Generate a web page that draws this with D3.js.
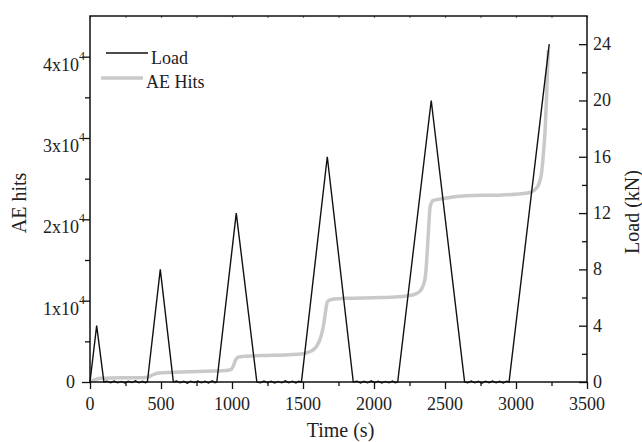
<!DOCTYPE html>
<html>
<head>
<meta charset="utf-8">
<script src="https://cdn.jsdelivr.net/npm/d3@7/dist/d3.min.js"></script>
<style>
  html, body { margin: 0; padding: 0; background: #fff; }
  svg { display: block; }
  text { font-family: "Liberation Serif", "Times New Roman", serif; fill: #222; }
</style>
</head>
<body>
<div id="chart"></div>
<script>
// ---- Data ----
const xTicks = [0, 500, 1000, 1500, 2000, 2500, 3000, 3500];
const leftTicks = [0, 10000, 20000, 30000, 40000];
const leftTickMantissa = ["0", "1x10", "2x10", "3x10", "4x10"];
const leftTickExponent = ["", "4", "4", "4", "4"];
const rightTicks = [0, 4, 8, 12, 16, 20, 24];

// Load (kN) vs time (s)
const loadTime = [0, 47, 98, 120, 145, 170, 195, 220, 245, 270, 295, 320, 345, 370, 390, 404,
  495, 587, 610, 635, 660, 685, 710, 735, 760, 785, 810, 835, 860, 880, 893,
  1030, 1175, 1200, 1225, 1250, 1275, 1300, 1325, 1350, 1375, 1400, 1425, 1450, 1470, 1489,
  1671, 1854, 1880, 1905, 1930, 1955, 1980, 2005, 2030, 2055, 2080, 2105, 2130, 2150, 2167,
  2403, 2638, 2660, 2685, 2710, 2735, 2760, 2785, 2810, 2835, 2860, 2885, 2910, 2935, 2951,
  3234];
const loadValue = [0, 4, 0, 0.06, -0.05, 0.07, -0.06, 0.04, -0.07, 0.05, -0.04, 0.08, -0.06, 0.05, -0.05, 0,
  8, 0, 0.07, -0.06, 0.05, -0.08, 0.06, -0.04, 0.07, -0.06, 0.05, -0.07, 0.08, -0.05, 0,
  12, 0, -0.06, 0.07, -0.05, 0.06, -0.07, 0.04, -0.06, 0.08, -0.05, 0.06, -0.07, 0.05, 0,
  16, 0, 0.06, -0.07, 0.05, -0.06, 0.08, -0.05, 0.06, -0.07, 0.04, -0.06, 0.07, -0.05, 0,
  20, 0, -0.05, 0.07, -0.06, 0.05, -0.08, 0.06, -0.05, 0.07, -0.06, 0.05, -0.07, 0.06, 0,
  24];

// AE hits (cumulative) vs time (s)
const aeTime = [0, 30, 70, 150, 300, 395, 420, 450, 480, 520, 700, 870, 960, 995, 1010, 1025, 1045,
  1080, 1200, 1400, 1490, 1560, 1600, 1625, 1645, 1660, 1672, 1700, 1800, 2050, 2150, 2270, 2320,
  2345, 2362, 2375, 2385, 2395, 2415, 2500, 2650, 2900, 3080, 3130, 3160, 3180, 3195, 3205, 3215,
  3222, 3228];
const aeHits = [0, 250, 450, 500, 520, 560, 700, 950, 1100, 1150, 1250, 1350, 1420, 1550, 2000, 2700, 3050,
  3150, 3250, 3350, 3450, 3800, 4500, 5500, 7000, 8800, 9900, 10150, 10300, 10380, 10450, 10700, 11100,
  11800, 13000, 16000, 19000, 21500, 22300, 22600, 22900, 23000, 23250, 23600, 24300, 25700, 28500, 31000, 35000,
  38500, 40800];

const seriesNames = ["Load", "AE Hits"];

// ---- Layout ----
const W = 642, H = 442;
const L = 90, R = 587, T = 16, B = 382;

const svg = d3.select("#chart").append("svg").attr("width", W).attr("height", H);

const x = d3.scaleLinear().domain([0, 3500]).range([L, R]);
const yL = d3.scaleLinear().domain([0, 45000]).range([B, T]);
const yR = d3.scaleLinear().domain([0, 26]).range([B, T]);

const fontTick = 18, fontTitle = 20;

// ---- Series ----
const aeData = aeTime.map((t, i) => [t, aeHits[i]]);
const loadData = loadTime.map((t, i) => [t, loadValue[i]]);

svg.append("path")
  .datum(aeData)
  .attr("fill", "none")
  .attr("stroke", "#c9c9c9")
  .attr("stroke-width", 3.5)
  .attr("stroke-linejoin", "round")
  .attr("d", d3.line().x(d => x(d[0])).y(d => yL(d[1])).curve(d3.curveMonotoneX));

svg.append("path")
  .datum(loadData)
  .attr("fill", "none")
  .attr("stroke", "#111")
  .attr("stroke-width", 1.4)
  .attr("stroke-linejoin", "miter")
  .attr("d", d3.line().x(d => x(d[0])).y(d => yR(d[1])));

// ---- Axes ----
function styleAxis(g) {
  g.select(".domain").remove();
  g.selectAll("line").attr("stroke", "#111").attr("stroke-width", 1.3);
}

// bottom major
svg.append("g").attr("transform", `translate(0,${B})`)
  .call(d3.axisBottom(x).tickValues(xTicks).tickSize(7).tickFormat(""))
  .call(styleAxis);
// bottom minor
svg.append("g").attr("transform", `translate(0,${B})`)
  .call(d3.axisBottom(x).tickValues(d3.range(250, 3500, 500)).tickSize(4).tickFormat(""))
  .call(styleAxis);
// bottom labels
svg.append("g").selectAll("text").data(xTicks).join("text")
  .attr("x", d => x(d)).attr("y", 410)
  .attr("text-anchor", "middle").attr("font-size", fontTick)
  .text(d => d);

// top ticks (tiny)
svg.append("g").attr("transform", `translate(0,${T})`)
  .call(d3.axisBottom(x).tickValues(d3.range(0, 3501, 250)).tickSize(2).tickFormat(""))
  .call(g => { g.select(".domain").remove(); g.selectAll("line").attr("stroke", "#777").attr("stroke-width", 1.2); });

// left major
svg.append("g").attr("transform", `translate(${L},0)`)
  .call(d3.axisLeft(yL).tickValues(leftTicks).tickSize(8).tickFormat(""))
  .call(styleAxis);
// left minor
svg.append("g").attr("transform", `translate(${L},0)`)
  .call(d3.axisLeft(yL).tickValues([5000, 15000, 25000, 35000]).tickSize(5).tickFormat(""))
  .call(styleAxis);
// left labels
const ll = svg.append("g").selectAll("text").data(leftTicks).join("text")
  .attr("x", 84)
  .attr("y", (d, i) => leftTickExponent[i] ? yL(d) + 14 : yL(d) + 6)
  .attr("text-anchor", "end").attr("font-size", fontTick);
ll.each(function(d, i) {
  const t = d3.select(this);
  if (leftTickExponent[i]) {
    t.attr("x", 85);
    t.append("tspan").text(leftTickMantissa[i]);
    t.append("tspan").attr("dy", -11).attr("font-size", 12).text(leftTickExponent[i]);
  } else {
    t.attr("x", 75);
    t.text(leftTickMantissa[i]);
  }
});

// right major (inward)
svg.append("g").attr("transform", `translate(${R},0)`)
  .call(d3.axisLeft(yR).tickValues(rightTicks).tickSize(8).tickFormat(""))
  .call(styleAxis);
// right minor
svg.append("g").attr("transform", `translate(${R},0)`)
  .call(d3.axisLeft(yR).tickValues([2, 6, 10, 14, 18, 22]).tickSize(5).tickFormat(""))
  .call(styleAxis);
svg.append("g").selectAll("text").data(rightTicks).join("text")
  .attr("x", 593).attr("y", d => yR(d) + 6)
  .attr("text-anchor", "start").attr("font-size", fontTick)
  .text(d => d);

// frame
svg.append("rect").attr("x", L).attr("y", T).attr("width", R - L).attr("height", B - T)
  .attr("fill", "none").attr("stroke", "#111").attr("stroke-width", 1.5);

// titles
svg.append("text").attr("x", (L + R) / 2 + 2).attr("y", 437)
  .attr("text-anchor", "middle").attr("font-size", fontTitle).text("Time (s)");
svg.append("text").attr("transform", "translate(26,203) rotate(-90)")
  .attr("text-anchor", "middle").attr("font-size", fontTitle).text("AE hits");
svg.append("text").attr("transform", "translate(639,212) rotate(-90)")
  .attr("text-anchor", "middle").attr("font-size", fontTitle).text("Load (kN)");

// legend
const legend = svg.append("g");
legend.append("line").attr("x1", 106).attr("x2", 148).attr("y1", 53).attr("y2", 53)
  .attr("stroke", "#111").attr("stroke-width", 1.4);
legend.append("text").attr("x", 151).attr("y", 64).attr("font-size", fontTick).text(seriesNames[0]);
legend.append("line").attr("x1", 101).attr("x2", 143).attr("y1", 78).attr("y2", 78)
  .attr("stroke", "#c9c9c9").attr("stroke-width", 3.5);
legend.append("text").attr("x", 146).attr("y", 88).attr("font-size", fontTick).text(seriesNames[1]);
</script>
</body>
</html>
